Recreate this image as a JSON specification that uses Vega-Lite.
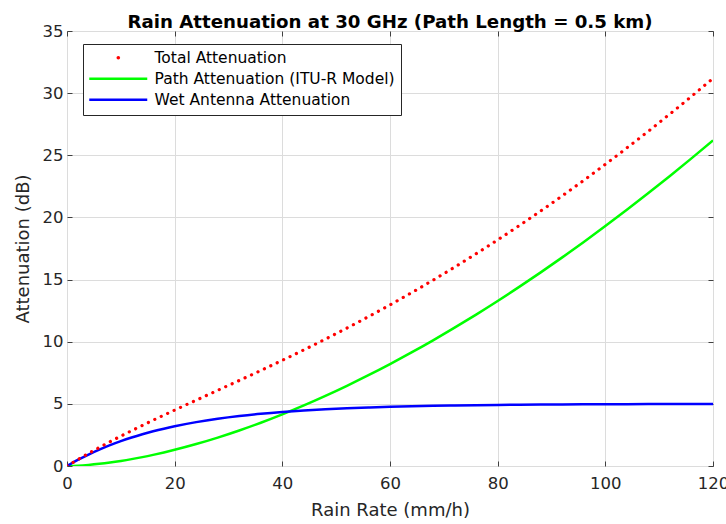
{
  "$schema": "https://vega.github.io/schema/vega-lite/v6.json",
  "width": 646,
  "height": 435,
  "autosize": {"type": "none"},
  "padding": {"left": 67, "top": 31, "right": 13, "bottom": 58},
  "background": "white",
  "title": {
    "text": "Rain Attenuation at 30 GHz (Path Length = 0.5 km)",
    "font": "DejaVu Sans",
    "fontSize": 18.2,
    "fontWeight": "bold",
    "color": "black",
    "anchor": "middle",
    "baseline": "alphabetic",
    "offset": -3,
    "dy": 20
  },
  "config": {
    "view": {"stroke": "#404040", "strokeWidth": 1},
    "axis": {
      "labelFont": "DejaVu Sans",
      "titleFont": "DejaVu Sans",
      "labelFontSize": 16.5,
      "titleFontSize": 18,
      "titleFontWeight": "normal",
      "labelColor": "#262626",
      "titleColor": "#262626",
      "gridColor": "#dcdcdc",
      "gridWidth": 1,
      "tickColor": "#404040",
      "tickSize": -5,
      "domain": false
    }
  },
  "resolve": {"axis": {"x": "independent", "y": "independent"}},
  "data": {
    "values": [
      {"r": 0, "total": 0, "path": 0, "wet": 0},
      {"r": 2, "total": 0.512, "path": 0.027, "wet": 0.485},
      {"r": 4, "total": 1.011, "path": 0.088, "wet": 0.923},
      {"r": 6, "total": 1.491, "path": 0.173, "wet": 1.318},
      {"r": 8, "total": 1.956, "path": 0.28, "wet": 1.676},
      {"r": 10, "total": 2.405, "path": 0.407, "wet": 1.998},
      {"r": 12, "total": 2.841, "path": 0.552, "wet": 2.289},
      {"r": 14, "total": 3.267, "path": 0.715, "wet": 2.552},
      {"r": 16, "total": 3.685, "path": 0.895, "wet": 2.79},
      {"r": 18, "total": 4.094, "path": 1.09, "wet": 3.004},
      {"r": 20, "total": 4.499, "path": 1.301, "wet": 3.198},
      {"r": 24, "total": 5.296, "path": 1.765, "wet": 3.531},
      {"r": 28, "total": 6.088, "path": 2.286, "wet": 3.802},
      {"r": 32, "total": 6.882, "path": 2.859, "wet": 4.023},
      {"r": 36, "total": 7.685, "path": 3.482, "wet": 4.203},
      {"r": 40, "total": 8.506, "path": 4.156, "wet": 4.35},
      {"r": 44, "total": 9.345, "path": 4.875, "wet": 4.47},
      {"r": 48, "total": 10.209, "path": 5.641, "wet": 4.568},
      {"r": 52, "total": 11.1, "path": 6.452, "wet": 4.648},
      {"r": 56, "total": 12.018, "path": 7.305, "wet": 4.713},
      {"r": 60, "total": 12.965, "path": 8.199, "wet": 4.766},
      {"r": 64, "total": 13.945, "path": 9.136, "wet": 4.809},
      {"r": 68, "total": 14.956, "path": 10.112, "wet": 4.844},
      {"r": 72, "total": 16.003, "path": 11.13, "wet": 4.873},
      {"r": 76, "total": 17.081, "path": 12.185, "wet": 4.896},
      {"r": 80, "total": 18.194, "path": 13.278, "wet": 4.916},
      {"r": 84, "total": 19.342, "path": 14.411, "wet": 4.931},
      {"r": 88, "total": 20.522, "path": 15.578, "wet": 4.944},
      {"r": 92, "total": 21.738, "path": 16.784, "wet": 4.954},
      {"r": 96, "total": 22.988, "path": 18.025, "wet": 4.963},
      {"r": 100, "total": 24.271, "path": 19.301, "wet": 4.97},
      {"r": 104, "total": 25.589, "path": 20.614, "wet": 4.975},
      {"r": 108, "total": 26.939, "path": 21.959, "wet": 4.98},
      {"r": 112, "total": 28.323, "path": 23.339, "wet": 4.984},
      {"r": 116, "total": 29.74, "path": 24.753, "wet": 4.987},
      {"r": 120, "total": 31.189, "path": 26.2, "wet": 4.989}
    ]
  },
  "transform": [{"fold": ["total", "path", "wet"], "as": ["series", "att"]}],
  "layer": [
    {
      "transform": [{"filter": "datum.series !== 'total'"}],
      "mark": {"type": "line", "strokeWidth": 2.5, "interpolate": "monotone", "clip": true},
      "encoding": {
        "x": {
          "field": "r", "type": "quantitative",
          "scale": {"domain": [0, 120], "nice": false},
          "axis": {"orient": "bottom", "title": "Rain Rate (mm/h)", "values": [0, 20, 40, 60, 80, 100, 120], "labelPadding": 14, "titlePadding": 10, "labelFlush": false}
        },
        "y": {
          "field": "att", "type": "quantitative",
          "scale": {"domain": [0, 35], "nice": false},
          "axis": {"orient": "left", "title": "Attenuation (dB)", "values": [0, 5, 10, 15, 20, 25, 30, 35], "labelPadding": 9, "titlePadding": 10, "labelFlush": false}
        },
        "color": {
          "field": "series", "type": "nominal",
          "scale": {"domain": ["total", "path", "wet"], "range": ["#ff0000", "#00ff00", "#0000ff"]},
          "legend": {
            "orient": "none", "legendX": 16, "legendY": 13, "title": null,
            "labelExpr": "datum.value === 'total' ? 'Total Attenuation' : datum.value === 'path' ? 'Path Attenuation (ITU-R Model)' : 'Wet Antenna Attenuation'",
            "symbolType": "stroke", "symbolSize": 3364, "symbolStrokeWidth": 2.5,
            "symbolOffset": 21.5,
            "labelFont": "DejaVu Sans", "labelFontSize": 15.5, "labelColor": "black",
            "labelLimit": 400, "labelOffset": 28.5,
            "strokeColor": "#262626", "fillColor": "white", "padding": 6, "rowPadding": 4,
            "encode": {
              "symbols": {
                "update": {
                  "strokeDash": {"signal": "datum.value === 'total' ? [0.1, 1000] : [1, 0]"},
                  "strokeDashOffset": {"signal": "datum.value === 'total' ? -29 : 0"},
                  "strokeCap": {"signal": "datum.value === 'total' ? 'round' : 'butt'"},
                  "strokeWidth": {"signal": "datum.value === 'total' ? 3.5 : 2.5"}
                }
              }
            }
          }
        },
        "order": {"field": "r", "type": "quantitative"}
      }
    },
    {
      "transform": [{"filter": "datum.series === 'total'"}],
      "mark": {"type": "line", "strokeWidth": 3.2, "strokeDash": [0.1, 7], "strokeCap": "round", "interpolate": "monotone", "clip": true},
      "encoding": {
        "x": {"field": "r", "type": "quantitative", "axis": null},
        "y": {"field": "att", "type": "quantitative", "axis": null},
        "color": {"field": "series", "type": "nominal"},
        "order": {"field": "r", "type": "quantitative"}
      }
    },
    {
      "transform": [{"filter": "datum.series === 'wet'"}],
      "mark": {"type": "line", "opacity": 0},
      "encoding": {
        "x": {"field": "r", "type": "quantitative", "axis": {"orient": "top", "labels": false, "title": null, "grid": false, "values": [0, 20, 40, 60, 80, 100, 120]}},
        "y": {"field": "att", "type": "quantitative", "axis": {"orient": "right", "labels": false, "title": null, "grid": false, "values": [0, 5, 10, 15, 20, 25, 30, 35]}}
      }
    }
  ]
}
